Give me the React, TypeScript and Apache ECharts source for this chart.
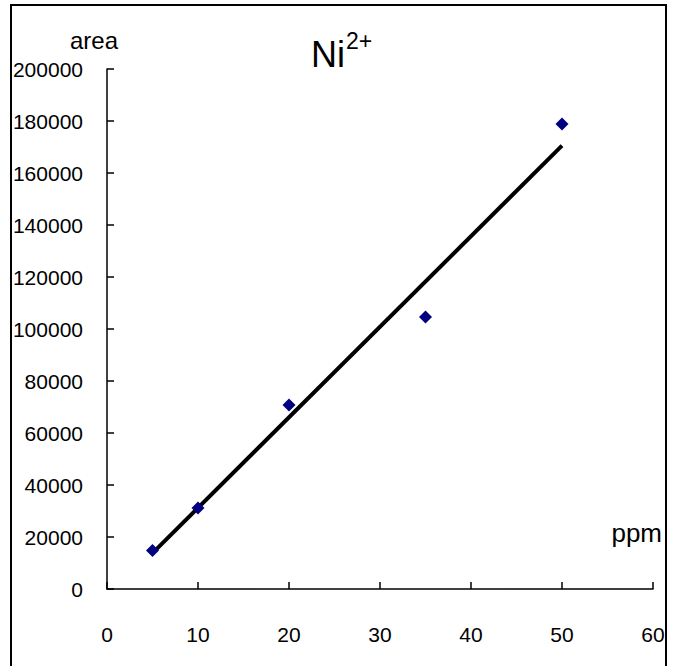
import React, { useEffect, useRef } from "react";
import * as echarts from "echarts";

const ppmValues = [5, 10, 20, 35, 50];
const areaValues = [14800, 31200, 70800, 104600, 178800];
const trendX = [5, 50];
const trendY = [13800, 170500];
const titleMain = "Ni";
const titleSup = "2+";
const yName = "area";
const xName = "ppm";

const FONT = "'Liberation Sans', Arial, sans-serif";

export default function App() {
  const ref = useRef<HTMLDivElement>(null);
  useEffect(() => {
    if (!ref.current) return;
    const chart = echarts.init(ref.current, null, { renderer: "svg" });
    chart.setOption({
      animation: false,
      backgroundColor: "#fff",
      grid: { left: 107, right: 26, top: 69, bottom: 77 },
      xAxis: {
        type: "value",
        min: 0,
        max: 60,
        interval: 10,
        splitLine: { show: false },
        axisLine: { show: true, onZero: false, lineStyle: { color: "#000", width: 1.5 } },
        axisTick: { show: true, inside: true, length: 7, lineStyle: { color: "#000", width: 1.5 } },
        axisLabel: { color: "#000", fontSize: 21, fontFamily: FONT, margin: 35, formatter: (v: number) => String(v) },
      },
      yAxis: {
        type: "value",
        min: 0,
        max: 200000,
        interval: 20000,
        splitLine: { show: false },
        axisLine: { show: true, onZero: false, lineStyle: { color: "#000", width: 1.5 } },
        axisTick: { show: true, inside: true, length: 7, lineStyle: { color: "#000", width: 1.5 } },
        axisLabel: { color: "#000", fontSize: 21, fontFamily: FONT, margin: 24, formatter: (v: number) => String(v) },
      },
      series: [
        {
          type: "line",
          data: trendX.map((x, i) => [x, trendY[i]]),
          symbol: "none",
          lineStyle: { color: "#000", width: 4 },
          z: 2,
        },
        {
          type: "scatter",
          data: ppmValues.map((x, i) => [x, areaValues[i]]),
          symbol: "diamond",
          symbolSize: 13,
          itemStyle: { color: "#000080", opacity: 1 },
          z: 3,
        },
      ],
      graphic: [
        {
          type: "rect",
          shape: { x: 11, y: 5, width: 655, height: 665 },
          style: { fill: "none", stroke: "#000", lineWidth: 2 },
          silent: true,
        },
        {
          type: "text",
          x: 70,
          y: 40,
          style: { text: yName, fontSize: 24, fontFamily: FONT, fill: "#000", verticalAlign: "middle" },
        },
        {
          type: "text",
          x: 662,
          y: 533,
          style: { text: xName, fontSize: 26, fontFamily: FONT, fill: "#000", align: "right", verticalAlign: "middle" },
        },
        {
          type: "text",
          x: 311,
          y: 54,
          style: { text: titleMain, fontSize: 36, fontFamily: FONT, fill: "#000", verticalAlign: "middle" },
        },
        {
          type: "text",
          x: 346,
          y: 41,
          style: { text: titleSup, fontSize: 23, fontFamily: FONT, fill: "#000", verticalAlign: "middle" },
        },
      ],
    });
    return () => chart.dispose();
  }, []);
  return (
    <div
      ref={ref}
      style={{ position: "fixed", left: 0, top: 0, width: 679, height: 666 }}
    />
  );
}
